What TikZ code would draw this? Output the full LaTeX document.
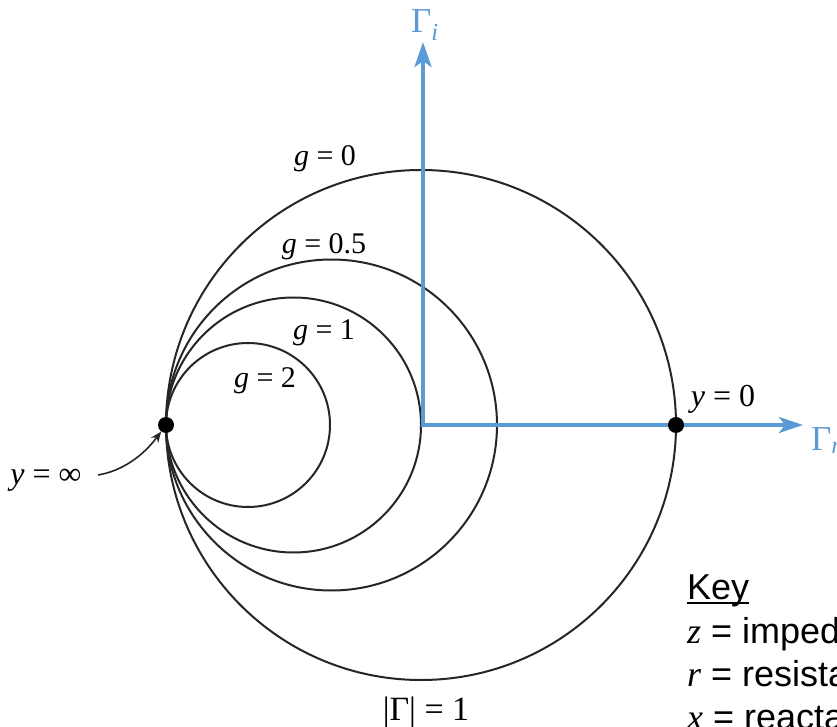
\documentclass[tikz,border=0pt]{standalone}
\usepackage{fontspec}
\setmainfont{Liberation Serif}
\newfontfamily\keyfont{Liberation Sans}
\usetikzlibrary{arrows.meta}
\definecolor{axisblue}{HTML}{5B9BD5}
\definecolor{curvegray}{HTML}{262626}
\newcommand\myul[1]{\setbox0\hbox{#1}\rlap{\rule[-5pt]{\wd0}{2pt}}\box0}
\begin{document}
\begin{tikzpicture}[x=1pt,y=1pt,
  lbl/.style={font=\fontsize{30}{36}\selectfont, inner sep=0pt, anchor=base},
  circ/.style={draw=curvegray, line width=2pt},
  axisline/.style={draw=axisblue, line width=4pt,
    {Stealth[length=25pt,width=17pt,inset=6pt]}-{Stealth[length=24pt,width=16pt,inset=6pt]}},
  dotnode/.style={circle, fill=black, minimum size=16pt, inner sep=0pt},
  keytxt/.style={font=\keyfont\fontsize{36}{40}\selectfont, inner sep=0pt, anchor=base west},
  axlbl/.style={font=\fontsize{35}{40}\selectfont, text=axisblue, inner sep=0pt, anchor=base west}]
\useasboundingbox (0,0) rectangle (837,726);
\clip (0,0) rectangle (837,726);
\fill[white] (0,0) rectangle (837,726);
% admittance circles
\draw[circ] (421,301) circle[radius=255];
\draw[circ] (331.5,301) circle[radius=165.5];
\draw[circ] (293.5,301) circle[radius=127.5];
\draw[circ] (248,301) circle[radius=82];
% axes
\coordinate (O) at (423,301);
\coordinate (itip) at (423,684);
\coordinate (rtip) at (803,301);
\draw[axisline] (itip) -- (O) -- (rtip);
\node[axlbl] (gi) at (411,693) {Γ\textsubscript{\textit{i}}};
\node[axlbl] (gr) at (811,276) {Γ\textsubscript{\textit{r}}};
% points
\node[dotnode] (Ldot) at (166,301) {};
\node[dotnode] (Rdot) at (676,301) {};
% labels
\node[lbl] (g0) at (325,560) {\textit{g} = 0};
\node[lbl] (g05) at (324,472) {\textit{g} = 0.5};
\node[lbl] (g1) at (324,386) {\textit{g} = 1};
\node[lbl] (g2) at (265,338) {\textit{g} = 2};
\node[lbl, font=\fontsize{32}{36}\selectfont] (y0) at (723,319) {\textit{y} = 0};
\node[lbl, font=\fontsize{32}{36}\selectfont] (yinf) at (46,242) {\textit{y} = ∞};
\node[lbl, font=\fontsize{34}{40}\selectfont] (gam) at (426,6) {|Γ| = 1};
\coordinate (ystart) at (98,251);
\draw[curvegray, line width=1.6pt, -{Stealth[length=11pt,width=9pt]}]
  (ystart) .. controls (122,255) and (143,270) .. (Ldot);
% key
\node[keytxt] (key) at (687,127) {\myul{Key}};
\node[keytxt] (kz) at (687,83) {{\rmfamily\itshape z} = impedance};
\node[keytxt] (kr) at (687,40) {{\rmfamily\itshape r} = resistance};
\node[keytxt] (kx) at (687,-3) {{\rmfamily\itshape x} = reactance};
\end{tikzpicture}
\end{document}
